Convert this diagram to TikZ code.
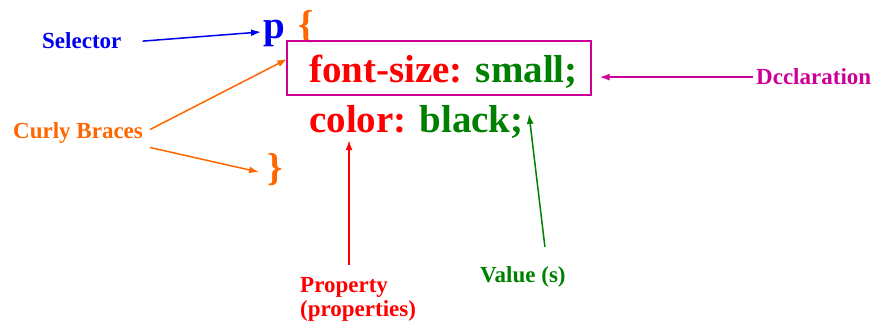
\documentclass[tikz,border=0pt]{standalone}
\usepackage{fontspec}
\setmainfont{Liberation Serif}
\usetikzlibrary{arrows.meta}
\definecolor{selblue}{RGB}{0,0,240}
\definecolor{braceorange}{RGB}{255,102,0}
\definecolor{declmagenta}{RGB}{204,0,153}
\definecolor{propred}{RGB}{255,0,0}
\definecolor{valgreen}{RGB}{0,128,0}

\begin{document}
\begin{tikzpicture}[x=1pt, y=-1pt, >={Latex[length=10pt,width=7pt]},
  lbl/.style={font=\fontsize{23}{24}\selectfont\bfseries, inner sep=0pt, anchor=base west},
  code/.style={font=\fontsize{39}{44}\selectfont\bfseries, inner sep=0pt, anchor=base west},
  conn/.style={->, line width=1.5pt}]
  \useasboundingbox (0,0) rectangle (877,326);

  % the rule
  \node[code, selblue] (p) at (263,39) {p};
  \node[code, braceorange] (open) at (298,38) {\{};
  \node[draw=declmagenta, line width=1.3pt, minimum width=304pt, minimum height=54pt, inner sep=0pt] (decl) at (439,68) {};
  \node[code, propred] (fs) at (309,83) {font-size: \textcolor{valgreen}{small;}};
  \node[code, propred] (col) at (309,132) {color: \textcolor{valgreen}{black;}};
  \node[code, braceorange] (close) at (267,180) {\}};

  % labels
  \node[lbl, selblue] (selector) at (42,49) {Selector};
  \node[lbl, braceorange] (curly) at (13,138) {Curly Braces};
  \node[lbl, declmagenta] (dlabel) at (756,85) {Dcclaration};
  \node[lbl, propred, align=left, anchor=north west] (prop) at (300,277) {Property\\(properties)};
  \node[lbl, valgreen] (value) at (480,282) {Value (s)};

  % arrows
  \draw[conn, selblue] ([shift={(21,0)}]selector.east) -- ([shift={(-2,-2)}]p.west);
  \draw[conn, braceorange] ([shift={(7,-3)}]curly.east) -- ([shift={(1,-9)}]decl.west);
  \draw[conn, braceorange] ([shift={(7,15)}]curly.east) -- ([shift={(-8,3)}]close.west);
  \draw[conn, declmagenta, shorten <=3pt, shorten >=8pt] (dlabel.west) -- (decl.east |- dlabel.west);
  \draw[conn, propred] ([shift={(49,-12)}]prop.north west) -- ([shift={(40,2)}]col.south west);
  \draw[conn, valgreen] ([shift={(22,-19)}]value.north) -- ([shift={(220,-18)}]col.base west);
\end{tikzpicture}
\end{document}
